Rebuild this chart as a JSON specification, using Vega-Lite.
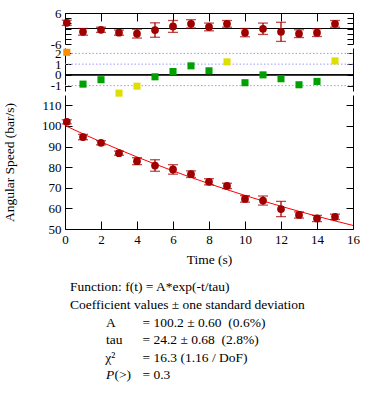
{
  "$schema": "https://vega.github.io/schema/vega-lite/v6.json",
  "padding": {"left": 2, "top": 7, "right": 5, "bottom": 5},
  "bounds": "flush",
  "spacing": 4,
  "config": {
    "font": "Liberation Serif",
    "view": {"stroke": null},
    "text": {"font": "Liberation Serif"},
    "axis": {"labelFontSize": 13, "titleFontSize": 13.5, "titleFontWeight": "normal", "labelColor": "black", "titleColor": "black", "domainColor": "black", "tickColor": "black", "grid": false, "labelFlush": false, "labelOverlap": false, "labelFont": "Liberation Serif", "titleFont": "Liberation Serif"}
  },
  "datasets": {
    "pts": [
      {"t": 0.1, "speed": 102.0, "err": 1.0, "resid": 2.2, "nres": 2.1, "dev": ">2"},
      {"t": 1, "speed": 94.6, "err": 1.3, "resid": -1.3, "nres": -0.86, "dev": "<1"},
      {"t": 2, "speed": 91.8, "err": 1.0, "resid": -0.5, "nres": -0.45, "dev": "<1"},
      {"t": 3, "speed": 86.8, "err": 1.0, "resid": -1.6, "nres": -1.7, "dev": "1-2"},
      {"t": 4, "speed": 82.9, "err": 1.7, "resid": -2.0, "nres": -1.05, "dev": "1-2"},
      {"t": 5, "speed": 80.8, "err": 2.8, "resid": -0.6, "nres": -0.18, "dev": "<1"},
      {"t": 6, "speed": 78.9, "err": 2.3, "resid": 0.8, "nres": 0.31, "dev": "<1"},
      {"t": 7, "speed": 76.6, "err": 1.6, "resid": 1.8, "nres": 0.84, "dev": "<1"},
      {"t": 8, "speed": 72.9, "err": 1.5, "resid": 0.6, "nres": 0.38, "dev": "<1"},
      {"t": 9, "speed": 70.9, "err": 1.3, "resid": 1.8, "nres": 1.21, "dev": "1-2"},
      {"t": 10, "speed": 64.6, "err": 1.6, "resid": -1.6, "nres": -0.73, "dev": "<1"},
      {"t": 11, "speed": 63.8, "err": 2.2, "resid": -0.1, "nres": 0.0, "dev": "<1"},
      {"t": 12, "speed": 59.7, "err": 3.7, "resid": -1.3, "nres": -0.36, "dev": "<1"},
      {"t": 13, "speed": 56.8, "err": 1.5, "resid": -2.0, "nres": -0.92, "dev": "<1"},
      {"t": 14, "speed": 55.1, "err": 1.5, "resid": -1.6, "nres": -0.61, "dev": "<1"},
      {"t": 15, "speed": 55.9, "err": 1.3, "resid": 1.8, "nres": 1.3, "dev": "1-2"}
    ],
    "fit": [
      {"t": 0, "f": 100.2}, {"t": 1, "f": 96.14}, {"t": 2, "f": 92.25}, {"t": 3, "f": 88.52},
      {"t": 4, "f": 84.94}, {"t": 5, "f": 81.5}, {"t": 6, "f": 78.2}, {"t": 7, "f": 75.03},
      {"t": 8, "f": 72.0}, {"t": 9, "f": 69.08}, {"t": 10, "f": 66.28}, {"t": 11, "f": 63.6},
      {"t": 12, "f": 61.03}, {"t": 13, "f": 58.56}, {"t": 14, "f": 56.19}, {"t": 15, "f": 53.91},
      {"t": 16, "f": 51.73}
    ],
    "levels": [{"lv": -1}, {"lv": 1}, {"lv": 2}],
    "txt": [
      {"row": 0, "x": 0.28, "text": "Function: f(t) = A*exp(-t/tau)", "it": false},
      {"row": 1, "x": 0.28, "text": "Coefficient values ± one standard deviation", "it": false},
      {"row": 2, "x": 2.28, "text": "A", "it": false},
      {"row": 2, "x": 4.3, "text": "= 100.2 ± 0.60 \u00a0(0.6%)", "it": false},
      {"row": 3, "x": 2.28, "text": "tau", "it": false},
      {"row": 3, "x": 4.3, "text": "= 24.2 ± 0.68 \u00a0(2.8%)", "it": false},
      {"row": 4, "x": 2.24, "text": "χ²", "it": false},
      {"row": 4, "x": 4.3, "text": "= 16.3 (1.16 / DoF)", "it": false},
      {"row": 5, "x": 2.28, "text": "P", "it": true},
      {"row": 5, "x": 2.75, "text": "(>)", "it": false},
      {"row": 5, "x": 4.3, "text": "= 0.3", "it": false}
    ]
  },
  "vconcat": [
    {
      "width": 288, "height": 31,
      "data": {"name": "pts"},
      "resolve": {"axis": {"y": "independent"}},
      "encoding": {
        "x": {"field": "t", "type": "quantitative", "scale": {"domain": [0, 16]},
              "axis": {"orient": "top", "values": [0, 2, 4, 6, 8, 10, 12, 14, 16], "labels": false, "tickSize": -8, "title": null}}
      },
      "layer": [
        {
          "mark": {"type": "rule", "color": "black", "strokeWidth": 1},
          "encoding": {
            "x": null,
            "y": {"datum": 0, "type": "quantitative", "scale": {"domain": [-6, 6]},
                  "axis": {"orient": "right", "values": [-6, -4, -2, 0, 2, 4, 6], "labels": false, "tickSize": -6, "title": null}}
          }
        },
        {
          "mark": {"type": "errorbar", "ticks": {"size": 10, "thickness": 1.3}, "color": "#a00000", "thickness": 1.3},
          "encoding": {
            "y": {"field": "resid", "type": "quantitative", "scale": {"domain": [-6, 6]},
                  "axis": {"orient": "left", "values": [-6, -4, -2, 0, 2, 4, 6], "tickSize": -6, "labelPadding": 10, "labelOverlap": false, "title": null,
                           "labelExpr": "datum.value == 6 || datum.value == -6 ? toString(datum.value) : ''"}},
            "yError": {"field": "err"}
          }
        },
        {
          "mark": {"type": "circle", "size": 60, "color": "#a00000", "opacity": 1},
          "encoding": {
            "y": {"field": "resid", "type": "quantitative", "axis": null}
          }
        }
      ]
    },
    {
      "width": 288, "height": 43,
      "resolve": {"axis": {"y": "independent"}},
      "layer": [
        {
          "data": {"name": "levels"},
          "mark": {"type": "rule", "color": "#9a9aff", "strokeDash": [1.5, 2], "strokeWidth": 1},
          "encoding": {
            "y": {"field": "lv", "type": "quantitative", "scale": {"domain": [-1.5, 2.5]},
                  "axis": {"orient": "right", "values": [-1, 0, 1, 2], "labels": false, "tickSize": -6, "title": null}}
          }
        },
        {
          "data": {"name": "levels"},
          "mark": {"type": "rule", "color": "black", "strokeWidth": 1},
          "encoding": {
            "y": {"datum": 0, "type": "quantitative",
                  "axis": {"orient": "left", "values": [-1, 0, 1, 2], "tickSize": -6, "labelPadding": 10, "labelOverlap": false, "title": null,
                           "labelExpr": "toString(datum.value)"}}
          }
        },
        {
          "data": {"name": "pts"},
          "mark": {"type": "square", "size": 50, "opacity": 1, "clip": false},
          "encoding": {
            "x": {"field": "t", "type": "quantitative", "scale": {"domain": [0, 16]}, "axis": null},
            "y": {"field": "nres", "type": "quantitative", "axis": null},
            "color": {"field": "dev", "type": "nominal", "scale": {"domain": ["<1", "1-2", ">2"], "range": ["#00a000", "#dede00", "#ff8c00"]}, "legend": null}
          }
        }
      ]
    },
    {
      "width": 288, "height": 134,
      "resolve": {"axis": {"y": "independent"}},
      "encoding": {
        "x": {"field": "t", "type": "quantitative", "scale": {"domain": [0, 16]},
              "axis": {"values": [0, 2, 4, 6, 8, 10, 12, 14, 16], "tickSize": -8, "labelPadding": 12, "labelOverlap": false, "labelFlush": false, "title": "Time (s)", "titlePadding": 6}}
      },
      "layer": [
        {
          "data": {"name": "fit"},
          "mark": {"type": "line", "color": "#ff0000", "strokeWidth": 1},
          "encoding": {
            "y": {"field": "f", "type": "quantitative", "scale": {"domain": [50, 111.85]},
                  "axis": {"orient": "right", "values": [50, 60, 70, 80, 90, 100, 110], "labels": false, "tickSize": -7, "title": null}}
          }
        },
        {
          "data": {"name": "pts"},
          "mark": {"type": "errorbar", "ticks": {"size": 10, "thickness": 1.3}, "color": "#a00000", "thickness": 1.3},
          "encoding": {
            "y": {"field": "speed", "type": "quantitative",
                  "axis": {"orient": "left", "values": [50, 60, 70, 80, 90, 100, 110], "tickSize": -7, "labelPadding": 11, "labelOverlap": false, "title": "Angular Speed (bar/s)", "titlePadding": 25}},
            "yError": {"field": "err"}
          }
        },
        {
          "data": {"name": "pts"},
          "mark": {"type": "circle", "size": 60, "color": "#a00000", "opacity": 1},
          "encoding": {
            "y": {"field": "speed", "type": "quantitative", "axis": null}
          }
        }
      ]
    },
    {
      "width": 288, "height": 151,
      "data": {"name": "txt"},
      "encoding": {
        "x": {"field": "x", "type": "quantitative", "scale": {"domain": [0, 16]}, "axis": null},
        "y": {"field": "row", "type": "quantitative", "scale": {"domain": [-3.085, 5.494], "reverse": true}, "axis": null},
        "text": {"field": "text"}
      },
      "layer": [
        {
          "transform": [{"filter": "!datum.it"}],
          "mark": {"type": "text", "align": "left", "baseline": "middle", "fontSize": 13.5, "font": "Liberation Serif", "color": "black"}
        },
        {
          "transform": [{"filter": "datum.it"}],
          "mark": {"type": "text", "align": "left", "baseline": "middle", "fontSize": 13.5, "font": "Liberation Serif", "fontStyle": "italic", "color": "black"}
        }
      ]
    }
  ]
}
